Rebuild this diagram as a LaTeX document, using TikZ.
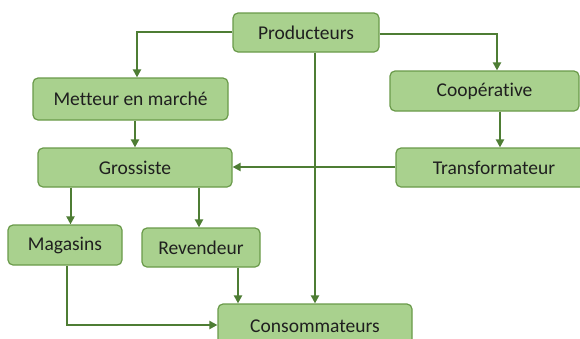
\documentclass[tikz,border=0pt]{standalone}
\usepackage{fontspec}
\setmainfont{Carlito}[Ligatures={NoCommon,NoRare,NoContextual}]
\usetikzlibrary{arrows.meta}
\definecolor{boxfill}{HTML}{A9D18E}
\definecolor{boxline}{HTML}{6A9A4A}
\definecolor{arr}{HTML}{4E7D34}
\begin{document}
\begin{tikzpicture}[x=1pt,y=-1pt,
  box/.style={draw=boxline, fill=boxfill, line width=1.2pt, rounded corners=5pt,
    inner sep=0pt, font=\fontsize{19.5}{22}\selectfont, text=black!88},
  arrow/.style={draw=arr, line width=2pt, -{Triangle[width=8pt,length=8pt]}}]
\useasboundingbox (0,0) rectangle (580,338);
\clip (0,0) rectangle (580,338);
\fill[white] (0,0) rectangle (580,338);
\node[box, minimum width=146pt, minimum height=39pt] (prod) at (306,32.5) {Producteurs};
\node[box, minimum width=195pt, minimum height=42pt] (mett) at (130.5,99) {Metteur en marché};
\node[box, minimum width=189pt, minimum height=40pt] (coop) at (484.5,91) {Coopérative};
\node[box, minimum width=196pt, minimum height=39pt] (trans) at (494,167.5) {Transformateur};
\node[box, minimum width=194pt, minimum height=39pt] (gros) at (135,167.5) {Grossiste};
\node[box, minimum width=114pt, minimum height=40pt] (mag) at (65,245) {Magasins};
\node[box, minimum width=118pt, minimum height=39pt] (rev) at (201,247.5) {Revendeur};
\node[box, minimum width=194pt, minimum height=44pt] (cons) at (315,326) {Consommateurs};
\draw[arrow] ([yshift=0.5pt]prod.west) -| ([xshift=6.5pt]mett.north);
\draw[arrow] ([yshift=-1.5pt]prod.east) -| ([xshift=12.5pt]coop.north);
\draw[arrow] (prod.south -| cons.north) -- (cons.north);
\draw[arrow] (mett.south -| gros.north) -- (gros.north);
\draw[arrow] ([xshift=15.5pt]coop.south) -- ([xshift=6pt]trans.north);
\draw[arrow] ([yshift=0.5pt]trans.west) -- ([yshift=0.5pt]gros.east);
\draw[arrow] ([xshift=5.5pt]gros.south -| mag.north) -- ([xshift=5.5pt]mag.north);
\draw[arrow] ([xshift=-2pt]gros.south -| rev.north) -- ([xshift=-2pt]rev.north);
\draw[arrow] ([xshift=37pt]rev.south) -- ([xshift=-77pt]cons.north);
\draw[arrow] ([xshift=1.5pt]mag.south) |- ([yshift=1pt]cons.west);
\end{tikzpicture}
\end{document}
